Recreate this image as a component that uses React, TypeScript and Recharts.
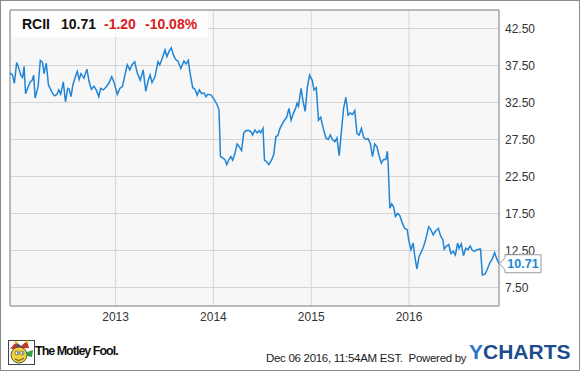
import React from 'react';
import { LineChart, Line, XAxis, YAxis, CartesianGrid, ReferenceArea } from 'recharts';

// decimal years
const dates = [
  2011.920, 2011.946, 2011.965, 2011.988, 2012.011, 2012.030, 2012.049, 2012.064, 2012.079, 2012.102,
  2012.128, 2012.147, 2012.162, 2012.177, 2012.207, 2012.230, 2012.253, 2012.268, 2012.291, 2012.313,
  2012.344, 2012.374, 2012.400, 2012.419, 2012.438, 2012.465, 2012.487, 2012.510, 2012.525, 2012.544,
  2012.563, 2012.589, 2012.608, 2012.627, 2012.646, 2012.676, 2012.707, 2012.729, 2012.752, 2012.779,
  2012.805, 2012.828, 2012.847, 2012.873, 2012.903, 2012.930, 2012.960, 2012.987, 2013.017, 2013.043,
  2013.070, 2013.100, 2013.119, 2013.145, 2013.168, 2013.195, 2013.221, 2013.251, 2013.282, 2013.308,
  2013.334, 2013.353, 2013.372, 2013.403, 2013.433, 2013.452, 2013.478, 2013.505, 2013.524, 2013.546,
  2013.569, 2013.592, 2013.614, 2013.637, 2013.667, 2013.698, 2013.720, 2013.743, 2013.762, 2013.788,
  2013.811, 2013.834, 2013.856, 2013.879, 2013.902, 2013.924, 2013.943, 2013.977, 2014.008, 2014.038,
  2014.057, 2014.072, 2014.098, 2014.121, 2014.136, 2014.159, 2014.178, 2014.197, 2014.219, 2014.242,
  2014.265, 2014.288, 2014.310, 2014.333, 2014.367, 2014.386, 2014.401, 2014.424, 2014.446, 2014.469,
  2014.484, 2014.507, 2014.522, 2014.545, 2014.567, 2014.594, 2014.617, 2014.639, 2014.658, 2014.681,
  2014.704, 2014.726, 2014.749, 2014.772, 2014.794, 2014.817, 2014.840, 2014.855, 2014.870, 2014.896,
  2014.915, 2014.938, 2014.961, 2014.983, 2015.010, 2015.029, 2015.052, 2015.074, 2015.097, 2015.123,
  2015.150, 2015.173, 2015.195, 2015.218, 2015.241, 2015.263, 2015.286, 2015.313, 2015.331, 2015.354,
  2015.377, 2015.399, 2015.422, 2015.445, 2015.468, 2015.490, 2015.513, 2015.536, 2015.558, 2015.581,
  2015.604, 2015.626, 2015.649, 2015.672, 2015.694, 2015.717, 2015.740, 2015.763, 2015.778, 2015.785,
  2015.804, 2015.823, 2015.842, 2015.861, 2015.884, 2015.906, 2015.929, 2015.955, 2015.982, 2015.997,
  2016.020, 2016.042, 2016.057, 2016.080, 2016.103, 2016.126, 2016.148, 2016.171, 2016.201, 2016.224,
  2016.247, 2016.269, 2016.300, 2016.322, 2016.345, 2016.360, 2016.383, 2016.406, 2016.428, 2016.451,
  2016.474, 2016.497, 2016.512, 2016.534, 2016.557, 2016.579, 2016.602, 2016.625, 2016.648, 2016.670,
  2016.693, 2016.731, 2016.750, 2016.776, 2016.799, 2016.825, 2016.852, 2016.875, 2016.897, 2016.920,
];

const prices = [
  36.5, 36.2, 35.1, 37.9, 37.1, 36.2, 35.9, 37.4, 33.7, 34.5,
  35.3, 35.5, 36.2, 33.1, 34.6, 38.2, 37.9, 36.4, 37.8, 34.9,
  34.0, 33.4, 33.6, 34.2, 33.6, 35.3, 32.6, 34.4, 34.3, 33.3,
  34.9, 36.0, 36.7, 35.6, 36.4, 35.8, 37.0, 35.3, 34.3, 34.7,
  34.1, 33.3, 34.4, 34.2, 34.6, 35.1, 36.0, 35.1, 33.6, 34.4,
  34.7, 36.5, 37.6, 36.9, 37.6, 38.0, 36.5, 35.5, 36.9, 34.0,
  35.5, 36.2, 35.2, 36.0, 38.0, 37.6, 38.5, 39.6, 38.7, 39.4,
  39.9, 38.9, 38.3, 38.1, 37.1, 38.1, 37.7, 38.2, 36.4, 34.5,
  34.3, 33.5, 34.2, 33.7, 33.8, 33.3, 33.6, 33.5, 32.9, 32.2,
  31.5, 25.2, 25.0, 24.7, 24.1, 24.8, 25.2, 24.7, 25.6, 26.9,
  26.5, 26.0, 28.4, 28.7, 28.7, 28.5, 28.1, 28.8, 28.4, 28.7,
  28.4, 29.0, 24.7, 24.5, 24.1, 24.7, 25.5, 27.9, 28.0, 29.0,
  29.6, 30.1, 30.5, 31.7, 30.1, 31.0, 31.7, 32.4, 32.0, 34.4,
  32.8, 31.3, 34.6, 36.2, 35.5, 34.2, 34.5, 30.1, 30.5, 29.0,
  27.7, 27.5, 28.1, 27.5, 27.2, 27.7, 25.3, 29.2, 31.7, 33.2,
  30.8, 31.1, 30.9, 31.4, 28.3, 28.1, 29.0, 27.8, 27.5, 27.6,
  27.0, 25.2, 26.9, 26.5, 25.3, 24.3, 24.8, 24.8, 25.9, 24.7,
  18.2, 18.8, 18.4, 17.1, 17.5, 17.2, 16.3, 15.5, 15.3, 13.9,
  12.6, 13.5, 11.9, 10.0, 11.7, 12.3, 13.0, 14.0, 15.7, 15.3,
  14.6, 15.1, 15.5, 14.5, 14.0, 12.7, 13.1, 13.3, 12.1, 12.4,
  11.9, 13.5, 12.8, 13.4, 11.8, 12.8, 12.6, 13.1, 12.5, 12.4,
  12.6, 12.7, 9.2, 9.3, 9.9, 10.8, 11.4, 12.2, 11.4, 10.71,
];

const yearTicks = [2013, 2014, 2015, 2016];
const priceTicks = [7.5, 12.5, 17.5, 22.5, 27.5, 32.5, 37.5, 42.5];
const xDomain = [2011.92, 2016.92];
const yDomain = [5, 45];

const ticker = 'RCII';
const lastPrice = '10.71';
const change = '-1.20';
const changePct = '-10.08%';

const data = dates.map((t, i) => ({ t, price: prices[i] }));

const FONT = '"Liberation Sans", Arial, sans-serif';
const BLUE = '#2185d6';

function LastLabel(props: any) {
  const { x, y, index } = props;
  if (index !== prices.length - 1) return null;
  const bx = x + 6;
  return (
    <g>
      <path
        d={`M${x + 0.5},${y} L${bx},${y - 6} L${bx},${y - 9} L${bx + 36},${y - 9} L${bx + 36},${y + 9} L${bx},${y + 9} L${bx},${y + 6} Z`}
        fill="#fff"
        stroke="#999"
        strokeWidth={1}
      />
      <text x={bx + 18} y={y + 4.5} textAnchor="middle" fill={BLUE} fontSize={12.5} fontWeight="bold" fontFamily={FONT}>
        {lastPrice}
      </text>
    </g>
  );
}

function FoolLogo() {
  return (
    <svg width={27} height={25} viewBox="0 0 27 25">
      <rect x={0.5} y={0.5} width={26} height={24} fill="#fff" stroke="#444" />
      <path d="M2 9 L8 2 L13 6 L19 1 L21 8 Z" fill="#c0392b" />
      <path d="M8 2 L13 6 L11 9 Z" fill="#2e5fa6" />
      <circle cx={8} cy={2.5} r={1.5} fill="#e8c21a" />
      <circle cx={19} cy={1.8} r={1.5} fill="#e8c21a" />
      <ellipse cx={11} cy={15} rx={8} ry={8} fill="#f2d33b" stroke="#333" strokeWidth={0.8} />
      <circle cx={9} cy={13} r={2} fill="#fff" stroke="#333" strokeWidth={0.6} />
      <circle cx={14} cy={13} r={2} fill="#fff" stroke="#333" strokeWidth={0.6} />
      <circle cx={9.5} cy={13} r={0.8} fill="#1f4fa0" />
      <circle cx={14.5} cy={13} r={0.8} fill="#1f4fa0" />
      <path d="M7 19 Q11 22 16 18" stroke="#333" strokeWidth={0.9} fill="none" />
      <path d="M19 12 L25 10 L24 17 L19 16 Z" fill="#2e9e4a" />
    </svg>
  );
}

export default function App() {
  return (
    <div
      style={{
        position: 'absolute',
        left: 0,
        top: 0,
        width: 580,
        height: 371,
        boxSizing: 'border-box',
        border: '1px solid #8a8a8a',
        background: '#fff',
        fontFamily: FONT,
        overflow: 'hidden',
      }}
    >
      <div style={{ position: 'absolute', left: -1, top: -1 }}>
        <LineChart width={580} height={371} data={data} margin={{ top: 10, right: 21, bottom: 40, left: 10 }}>
          <CartesianGrid stroke="#d6d6d6" fill="#f7f7f7" strokeWidth={1} />
          <XAxis
            dataKey="t"
            type="number"
            domain={xDomain}
            ticks={yearTicks}
            allowDataOverflow
            height={25}
            tickLine={false}
            axisLine={false}
            tickSize={0}
            tickMargin={6}
            tick={{ fill: '#333', fontSize: 12, fontFamily: FONT }}
          />
          <YAxis
            orientation="right"
            type="number"
            domain={yDomain}
            ticks={priceTicks}
            allowDataOverflow
            width={60}
            tickLine={false}
            axisLine={false}
            tickSize={0}
            tickMargin={6}
            tick={{ fill: '#333', fontSize: 12, fontFamily: FONT, textAnchor: 'start' }}
            tickFormatter={(v: number) => v.toFixed(2)}
          />
          <ReferenceArea
            x1={xDomain[0]}
            x2={xDomain[1]}
            y1={yDomain[0]}
            y2={yDomain[1]}
            fill="none"
            fillOpacity={0}
            stroke="#8a8a8a"
            strokeWidth={1}
            ifOverflow="visible"
          />
          <Line
            type="linear"
            dataKey="price"
            stroke={BLUE}
            strokeWidth={1.5}
            dot={false}
            isAnimationActive={false}
            label={<LastLabel />}
          />
        </LineChart>
      </div>

      {/* header box */}
      <div
        style={{
          position: 'absolute',
          left: 10,
          top: 10,
          width: 197,
          height: 26,
          background: 'rgba(255,255,255,0.85)',
          fontSize: 14,
          fontWeight: 'bold',
          lineHeight: '26px',
          whiteSpace: 'nowrap',
        }}
      >
        <span style={{ position: 'absolute', left: 11, color: '#111' }}>{ticker}</span>
        <span style={{ position: 'absolute', left: 50, color: '#111' }}>{lastPrice}</span>
        <span style={{ position: 'absolute', left: 93, color: '#d9201b' }}>{change}</span>
        <span style={{ position: 'absolute', left: 134, color: '#d9201b' }}>{changePct}</span>
      </div>

      {/* footer */}
      <div style={{ position: 'absolute', left: 7, top: 339 }}>
        <FoolLogo />
      </div>
      <div
        style={{
          position: 'absolute',
          left: 34,
          top: 343,
          fontSize: 12.5,
          fontWeight: 'bold',
          letterSpacing: -1,
          color: '#111',
          whiteSpace: 'nowrap',
        }}
      >
        The Motley Fool.
      </div>
      <div
        style={{
          position: 'absolute',
          left: 265,
          top: 351,
          fontSize: 11.5,
          color: '#222',
          whiteSpace: 'nowrap',
          letterSpacing: -0.3,
        }}
      >
        Dec 06 2016, 11:54AM EST.&nbsp; Powered by
      </div>
      <div
        style={{
          position: 'absolute',
          left: 468,
          top: 339,
          fontSize: 21,
          fontWeight: 'bold',
          whiteSpace: 'nowrap',
        }}
      >
        <span style={{ color: '#2a74c9' }}>Y</span>
        <span style={{ color: '#1d4d8c' }}>CHARTS</span>
      </div>
    </div>
  );
}
